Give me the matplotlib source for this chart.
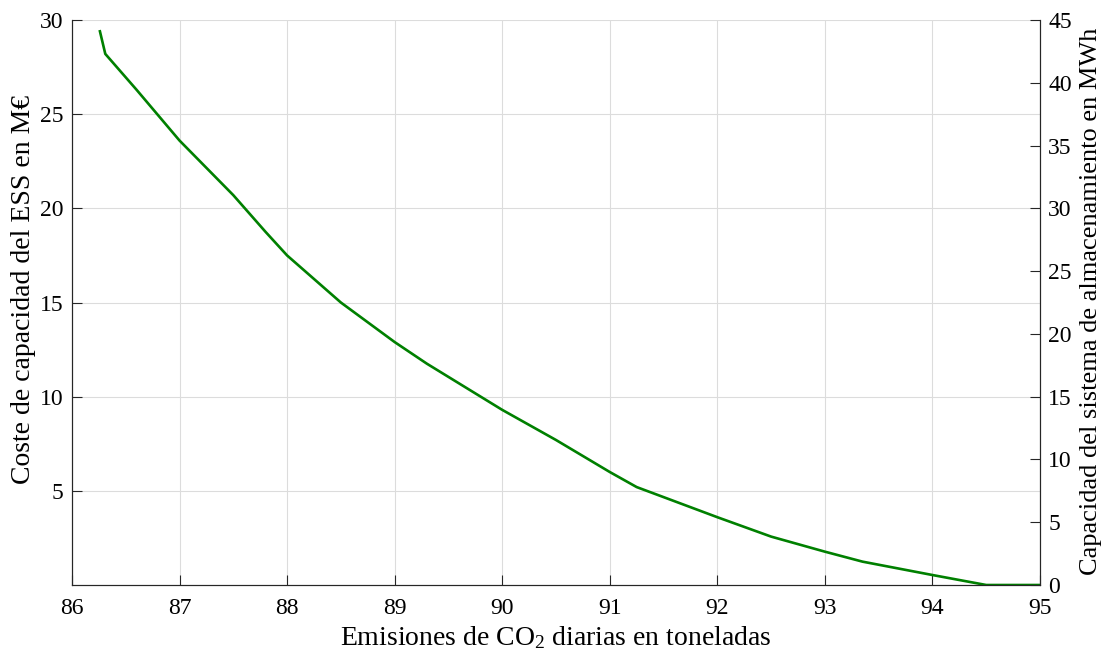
import numpy as np
import matplotlib.pyplot as plt

plt.rcParams['font.family'] = ['Liberation Serif', 'DejaVu Serif']
plt.rcParams['mathtext.fontset'] = 'custom'
plt.rcParams['mathtext.rm'] = 'Liberation Serif'
plt.rcParams['mathtext.it'] = 'Liberation Serif:italic'

# emisiones de CO2 (t) y coste de capacidad (M€)
emisiones = [86.26, 86.31, 86.6, 87.0, 87.5, 87.8, 88.0, 88.5, 89.0, 89.3, 90.0,
             90.5, 91.0, 91.25, 92.0, 92.5, 93.0, 93.35, 94.0, 94.5, 95.0]
coste = [29.4, 28.2, 26.3, 23.6, 20.7, 18.75, 17.5, 15.0, 12.9, 11.75, 9.3,
         7.7, 6.0, 5.2, 3.6, 2.57, 1.77, 1.24, 0.53, 0.0, 0.0]

xticks = np.arange(86, 96, 1)
yticks_izq = [5, 10, 15, 20, 25, 30]
yticks_der = np.arange(0, 50, 5)

fig = plt.figure(figsize=(11.07, 6.54), dpi=100)
ax = fig.add_axes([0.065, 0.1055, 0.8745, 0.8639])
ax.plot(emisiones, coste, color=(0, 0.5, 0), linewidth=1.9)
ax.set_xlim(86, 95)
ax.set_ylim(0, 30)
ax.set_xticks(xticks)
ax.set_yticks(yticks_izq)
ax.grid(True, color='#dcdcdc', linewidth=0.8)
ax.tick_params(direction='in', length=7, labelsize=17, colors='#262626', labelcolor='black')
ax.tick_params(axis='x', pad=9)
ax.tick_params(axis='y', pad=6)
ax.set_xlabel('Emisiones de CO$_2$ diarias en toneladas', fontsize=20, labelpad=4)
ax.set_ylabel('Coste de capacidad del ESS en M€', fontsize=20)
ax.yaxis.set_label_coords(-0.037, 0.523)
ax.spines['top'].set_visible(False)

ax2 = ax.twinx()
ax2.set_ylim(0, 45)
ax2.set_yticks(yticks_der)
ax2.tick_params(direction='in', length=7, labelsize=17, colors='#262626', labelcolor='black', pad=6)
ax2.set_ylabel('Capacidad del sistema de almacenamiento en MWh', fontsize=19)
ax2.yaxis.set_label_coords(1.041, 0.503)
ax2.spines['top'].set_visible(False)

for a in (ax, ax2):
    for s in a.spines.values():
        s.set_color('#262626')

fig.savefig('out.png', dpi=100)
